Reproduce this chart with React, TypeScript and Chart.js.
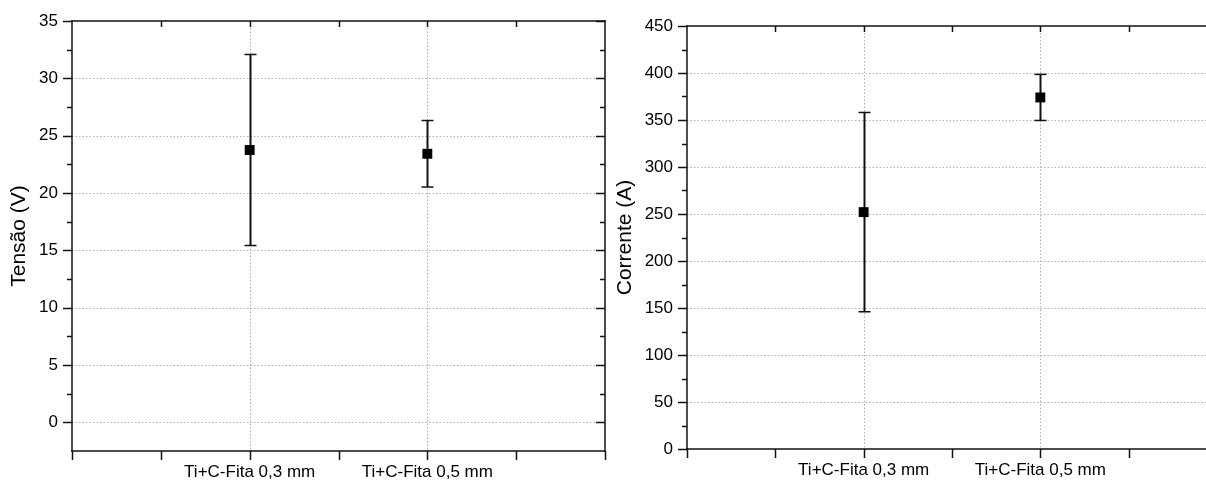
import React, { useEffect, useRef } from 'react';
import { Chart, registerables } from 'chart.js';

Chart.register(...registerables);

// ---- data ----
const categories = ['Ti+C-Fita 0,3 mm', 'Ti+C-Fita 0,5 mm'];
const tensaoMean = [23.75, 23.42];
const tensaoErr = [8.33, 2.9];
const correnteMean = [252, 374];
const correnteErr = [106, 24.5];
const tensaoTicks = [0, 5, 10, 15, 20, 25, 30, 35];
const correnteTicks = [0, 50, 100, 150, 200, 250, 300, 350, 400, 450];
const xTickValues = [-1, -0.5, 0, 0.5, 1, 1.5, 2];

const FONT = "'Liberation Sans', Arial, Helvetica, sans-serif";

const framePlugin = {
  id: 'frameErr',
  beforeDatasetsDraw(chart: any, _args: any, opts: any) {
    const { ctx, chartArea: a, scales } = chart;
    const x = scales.x;
    const y = scales.y;
    const line = (x1: number, y1: number, x2: number, y2: number) => {
      ctx.beginPath();
      ctx.moveTo(x1, y1);
      ctx.lineTo(x2, y2);
      ctx.stroke();
    };
    ctx.save();
    ctx.strokeStyle = '#b0b0b0';
    ctx.lineWidth = 1;
    ctx.setLineDash([1.5, 2]);
    for (const t of y.ticks) {
      if (t.value <= y.min || t.value >= y.max) continue;
      const py = Math.round(y.getPixelForValue(t.value)) + 0.5;
      line(a.left, py, a.right, py);
    }
    for (let i = 0; i < categories.length; i++) {
      const px = Math.round(x.getPixelForValue(i)) + 0.5;
      line(px, a.top, px, a.bottom);
    }
    ctx.setLineDash([]);
    const mean: number[] = opts.mean;
    const err: number[] = opts.err;
    ctx.strokeStyle = '#111';
    for (let i = 0; i < mean.length; i++) {
      const px = Math.round(x.getPixelForValue(i)) + 0.5;
      const pt = y.getPixelForValue(mean[i] + err[i]);
      const pb = y.getPixelForValue(mean[i] - err[i]);
      ctx.lineWidth = 2;
      line(px, pt, px, pb);
      ctx.lineWidth = 1.5;
      line(px - 6, pt, px + 6, pt);
      line(px - 6, pb, px + 6, pb);
    }
    ctx.restore();
  },
  afterDraw(chart: any, _args: any, opts: any) {
    const { ctx, chartArea: a, scales } = chart;
    const x = scales.x;
    const y = scales.y;
    const line = (x1: number, y1: number, x2: number, y2: number) => {
      ctx.beginPath();
      ctx.moveTo(x1, y1);
      ctx.lineTo(x2, y2);
      ctx.stroke();
    };
    ctx.save();
    ctx.strokeStyle = '#111';
    ctx.lineWidth = 1.5;
    ctx.lineCap = 'square';
    // frame
    line(a.left, a.top, a.left, a.bottom);
    line(a.left, a.top, a.right, a.top);
    line(a.left, a.bottom, a.right, a.bottom);
    if (opts.right) line(a.right, a.top, a.right, a.bottom);
    ctx.lineCap = 'butt';
    const MAJ = 9;
    const MIN = 5;
    // y ticks
    const yv: number[] = y.ticks.map((t: any) => t.value);
    for (const v of yv) {
      const py = Math.round(y.getPixelForValue(v)) + 0.5;
      line(a.left - MAJ, py, a.left, py);
      if (opts.right) line(a.right - MAJ, py, a.right, py);
    }
    for (let i = 0; i < yv.length - 1; i++) {
      const py = Math.round(y.getPixelForValue((yv[i] + yv[i + 1]) / 2)) + 0.5;
      line(a.left - MIN, py, a.left, py);
      if (opts.right) line(a.right - MIN, py, a.right, py);
    }
    // x ticks
    for (const t of x.ticks) {
      const px = Math.round(x.getPixelForValue(t.value)) + 0.5;
      line(px, a.bottom, px, a.bottom + MAJ);
      if (t.value > x.min && t.value < x.max) line(px, a.top, px, a.top + 6);
    }
    ctx.restore();
  },
};

type PanelProps = {
  mean: number[];
  err: number[];
  yTicks: number[];
  yMin: number;
  yMax: number;
  title: string;
  width: number;
  padTop: number;
  padRight: number;
  axisWidth: number;
  xHeight: number;
  titlePad: number;
  rightBorder: boolean;
};

function Panel(p: PanelProps) {
  const ref = useRef<HTMLCanvasElement | null>(null);
  useEffect(() => {
    if (!ref.current) return;
    const chart = new Chart(ref.current, {
      type: 'scatter',
      data: {
        datasets: [
          {
            data: p.mean.map((m, i) => ({ x: i, y: m })),
            pointStyle: 'rect',
            pointRadius: 7,
            pointHoverRadius: 7,
            backgroundColor: '#000',
            borderColor: '#000',
            borderWidth: 0,
            showLine: false,
          },
        ],
      },
      options: {
        responsive: false,
        animation: false,
        events: [],
        layout: { padding: { top: p.padTop, right: p.padRight, bottom: 0, left: 0 } },
        plugins: {
          legend: { display: false },
          tooltip: { enabled: false },
          frameErr: { mean: p.mean, err: p.err, right: p.rightBorder },
        } as any,
        scales: {
          x: {
            type: 'linear',
            min: -1,
            max: 2,
            grid: { display: false, drawTicks: false },
            border: { display: false },
            afterBuildTicks: (s: any) => {
              s.ticks = xTickValues.map((v) => ({ value: v }));
            },
            afterFit: (s: any) => {
              s.height = p.xHeight;
              s.paddingLeft = 0;
              s.paddingRight = 0;
            },
            ticks: {
              autoSkip: false,
              maxRotation: 0,
              padding: 11,
              color: '#000',
              font: { family: FONT, size: 17 },
              callback: (v: any) => {
                const n = Number(v);
                return Number.isInteger(n) && n >= 0 && n < categories.length ? categories[n] : '';
              },
            },
          },
          y: {
            type: 'linear',
            min: p.yMin,
            max: p.yMax,
            grid: { display: false, drawTicks: false },
            border: { display: false },
            afterBuildTicks: (s: any) => {
              s.ticks = p.yTicks.map((v) => ({ value: v }));
            },
            afterFit: (s: any) => {
              s.width = p.axisWidth;
              s.paddingTop = 0;
              s.paddingBottom = 0;
            },
            title: {
              display: true,
              text: p.title,
              color: '#000',
              font: { family: FONT, size: 21 },
              padding: { top: p.titlePad, bottom: 0 },
            },
            ticks: {
              padding: 14,
              color: '#000',
              font: { family: FONT, size: 17 },
              callback: (v: any) => String(v),
            },
          },
        },
      },
      plugins: [framePlugin],
    });
    return () => chart.destroy();
  }, []);
  return <canvas ref={ref} width={p.width} height={481} style={{ display: 'block' }} />;
}

export default function App() {
  return (
    <div
      style={{
        position: 'absolute',
        left: 0,
        top: 0,
        width: 1206,
        height: 481,
        overflow: 'hidden',
        background: '#fff',
      }}
    >
      <div style={{ position: 'absolute', left: 0, top: 0 }}>
        <Panel
          mean={tensaoMean}
          err={tensaoErr}
          yTicks={tensaoTicks}
          yMin={-2.5}
          yMax={35}
          title="Tensão (V)"
          width={612}
          padTop={21}
          padRight={2}
          axisWidth={72}
          xHeight={30}
          titlePad={7}
          rightBorder={true}
        />
      </div>
      <div style={{ position: 'absolute', left: 612, top: 0 }}>
        <Panel
          mean={correnteMean}
          err={correnteErr}
          yTicks={correnteTicks}
          yMin={0}
          yMax={450}
          title="Corrente (A)"
          width={612}
          padTop={26}
          padRight={7}
          axisWidth={75}
          xHeight={32}
          titlePad={1}
          rightBorder={true}
        />
      </div>
    </div>
  );
}
